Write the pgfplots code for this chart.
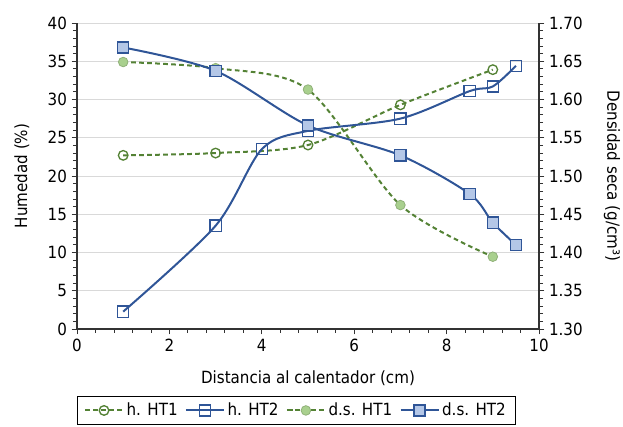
\documentclass[border=0pt]{standalone}
\usepackage{fontspec}
\setmainfont{DejaVu Sans Condensed}
\usepackage{pgfplots}
\pgfplotsset{compat=1.18}
\definecolor{gdark}{HTML}{548235}
\definecolor{glight}{HTML}{A9D08E}
\definecolor{bdark}{HTML}{2F5597}
\definecolor{blight}{HTML}{B4C7E7}
\pgfplotsset{
  every axis/.append style={font=\fontsize{12.6}{15}\selectfont},
  /pgf/number format/assume math mode=true,
  hHTone/.style={gdark, line width=1.5pt, dash pattern=on 3.5pt off 2.5pt, smooth, mark=o, mark size=3.6pt, mark options={solid, fill=white, line width=1pt}},
  hHTtwo/.style={bdark, line width=1.5pt, smooth, mark=square, mark size=4.2pt, mark options={solid, fill=white, line width=1pt}},
  dHTone/.style={gdark, line width=1.5pt, dash pattern=on 3.5pt off 2.5pt, smooth, mark=*, mark size=3.6pt, mark options={solid, fill=glight, draw=glight!85!black, line width=0.6pt}},
  dHTtwo/.style={bdark, line width=1.5pt, smooth, mark=square*, mark size=4.2pt, mark options={solid, fill=blight, draw=bdark, line width=1pt}},
}
\begin{document}
\begin{tikzpicture}
\path[use as bounding box] (-57.75pt,-73.5pt) rectangle (409.5pt,246.75pt);
\begin{axis}[
  at={(0,0)}, anchor=south west, scale only axis,
  width=346.5pt, height=229.5pt,
  xmin=0, xmax=10, ymin=0, ymax=40,
  axis x line*=bottom, axis y line*=left,
  axis line style={black!80, line width=0.8pt},
  xtick={0,2,4,6,8,10}, minor x tick num=4,
  ytick={0,5,10,15,20,25,30,35,40}, minor y tick num=4,
  tick align=outside, tick style={black!80, line width=0.6pt},
  major tick length=4pt, minor tick length=3pt,
  ymajorgrids, major grid style={black!15, line width=0.6pt},
  xlabel={Distancia al calentador (cm)},
  ylabel={Humedad (\%)},
  xlabel style={yshift=-7pt},
  ylabel style={yshift=7pt},
]
\addplot[hHTone] coordinates {(1,22.7) (3,23.0) (5,24.05) (7,29.3) (9,33.9)};
\addplot[hHTtwo] coordinates {(1,2.27) (3,13.5) (4,23.5) (5,25.9) (7,27.5) (8.5,31.1) (9,31.7) (9.5,34.4)};
\end{axis}
\begin{axis}[
  at={(0,0)}, anchor=south west, scale only axis,
  width=346.5pt, height=229.5pt,
  xmin=0, xmax=10, ymin=1.3, ymax=1.7,
  axis x line=none, axis y line*=right,
  axis line style={black!80, line width=0.8pt},
  ytick={1.30,1.35,1.40,1.45,1.50,1.55,1.60,1.65,1.70}, minor y tick num=4,
  yticklabel style={/pgf/number format/.cd, fixed, fixed zerofill, precision=2},
  tick align=outside, tick style={black!80, line width=0.6pt},
  major tick length=4pt, minor tick length=3pt,
  ylabel={Densidad seca (g/cm³)},
  ylabel style={rotate=180, yshift=9pt},
  legend columns=4,
  legend style={at={(0,-0.219)}, anchor=north west, draw=black, line width=0.6pt,
    font=\fontsize{12.6}{15}\selectfont, /tikz/every even column/.append style={column sep=3.5pt},
    inner ysep=3pt, inner xsep=5pt},
  legend image code/.code={\draw[mark repeat=2,mark phase=2] plot coordinates {(0cm,0cm) (0.5cm,0cm) (1cm,0cm)};},
]
\addlegendimage{hHTone, sharp plot}
\addlegendentry{h. HT1}
\addlegendimage{hHTtwo, sharp plot}
\addlegendentry{h. HT2}
\addplot[dHTone] coordinates {(1,1.649) (3,1.641) (5,1.613) (7,1.462) (9,1.3945)};
\addlegendentry{d.s. HT1}
\addplot[dHTtwo] coordinates {(1,1.668) (3,1.6375) (5,1.566) (7,1.527) (8.5,1.4765) (9,1.439) (9.5,1.41)};
\addlegendentry{d.s. HT2}
\end{axis}
\end{tikzpicture}
\end{document}
